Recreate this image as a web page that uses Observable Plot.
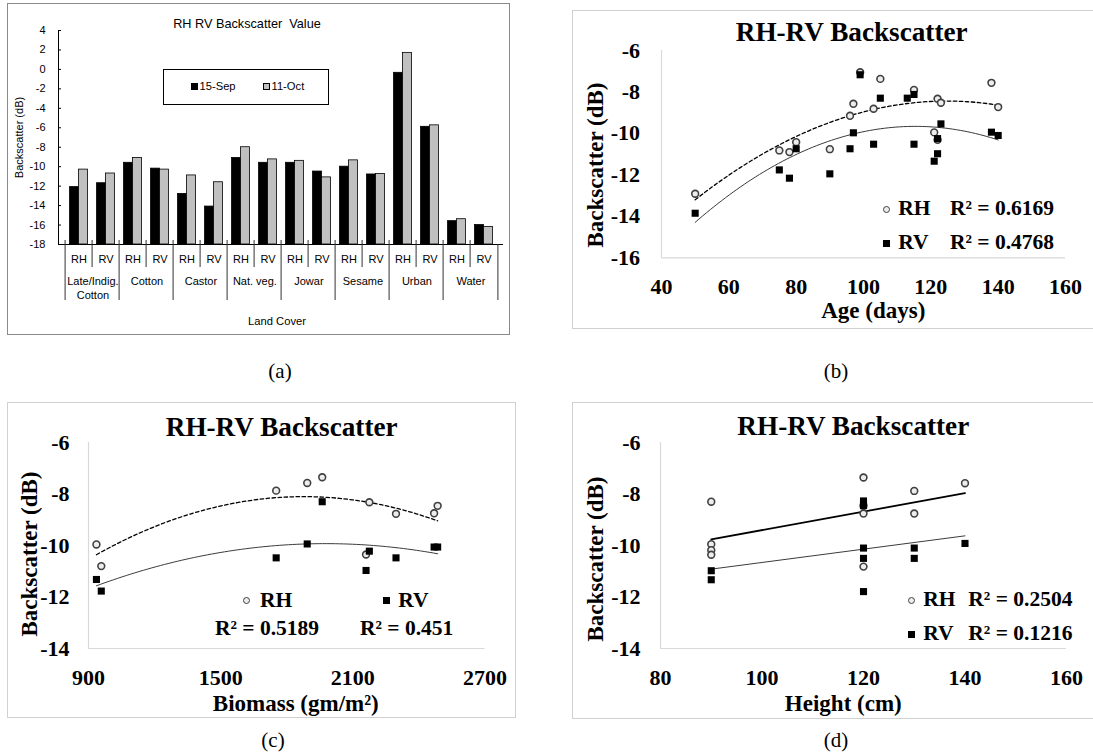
<!DOCTYPE html>
<html>
<head>
<meta charset="utf-8">
<script src="https://cdn.jsdelivr.net/npm/d3@7"></script>
<script src="https://cdn.jsdelivr.net/npm/@observablehq/plot@0.6"></script>
<style>
  html, body { margin: 0; padding: 0; background: #fff; }
  #page { position: relative; width: 1093px; height: 754px; overflow: hidden; background: #fff; }
  .box { position: absolute; box-sizing: border-box; }
  .svgwrap { position: absolute; }
  .t { position: absolute; white-space: pre; line-height: 1; color: #000; }
  .serif { font-family: "Liberation Serif", "Times New Roman", serif; }
  .sans { font-family: "Liberation Sans", Arial, sans-serif; }
  .mk { position: absolute; box-sizing: border-box; }
</style>
</head>
<body>
<div id="page"></div>
<script>
// ---------------- Panel (a) data ----------------
const landGroups = ["Late/Indig.\nCotton", "Cotton", "Castor", "Nat. veg.", "Jowar", "Sesame", "Urban", "Water"];
const polarisations = ["RH", "RV"];
const dateLabels = ["15-Sep", "11-Oct"];
const sep15 = [-12.1, -11.7, -9.6, -10.2, -12.8, -14.1, -9.1, -9.6, -9.6, -10.5, -10.0, -10.8, -0.35, -5.9, -15.6, -16.0];
const oct11 = [-10.3, -10.7, -9.1, -10.3, -10.9, -11.6, -8.0, -9.25, -9.4, -11.1, -9.35, -10.75, 1.7, -5.75, -15.4, -16.2];
const barYTicks = [4, 2, 0, -2, -4, -6, -8, -10, -12, -14, -16, -18];
const barYDomain = [-18, 4];

// ---------------- Panel (b) data: age ----------------
const ageRH = [50, 75, 78, 80, 90, 96, 97, 99, 103, 105, 115, 121, 122, 122, 123, 138, 140];
const ageRHdB = [-12.91, -10.82, -10.9, -10.42, -10.76, -9.15, -8.57, -7.05, -8.81, -7.37, -7.9, -9.95, -8.33, -10.31, -8.52, -7.56, -8.73];
const ageRV = [50, 75, 78, 80, 90, 96, 97, 99, 103, 105, 113, 115, 115, 121, 122, 122, 123, 138, 140];
const ageRVdB = [-13.85, -11.76, -12.16, -10.74, -11.95, -10.74, -9.97, -7.17, -10.52, -8.3, -8.3, -8.12, -10.52, -11.34, -10.98, -10.25, -9.54, -9.94, -10.1];
const ageXTicks = [40, 60, 80, 100, 120, 140, 160];
const ageYTicks = [-6, -8, -10, -12, -14, -16];
const ageR2 = ["R² = 0.6169", "R² = 0.4768"];

// ---------------- Panel (c) data: biomass ----------------
const bioX = [936, 958, 1752, 1893, 1961, 2160, 2175, 2296, 2469, 2485];
const bioRHdB = [-9.96, -10.8, -7.87, -7.57, -7.35, -10.35, -8.32, -8.77, -8.75, -8.46];
const bioRVdB = [-11.32, -11.77, -10.48, -9.94, -8.3, -10.97, -10.22, -10.48, -10.06, -10.06];
const bioXTicks = [900, 1500, 2100, 2700];
const bioYTicks = [-6, -8, -10, -12, -14];
const bioR2 = ["R² = 0.5189", "R² = 0.451"];

// ---------------- Panel (d) data: height ----------------
const htRH = [90, 90, 90, 90, 120, 120, 120, 120, 130, 130, 140];
const htRHdB = [-8.3, -9.95, -10.18, -10.36, -7.36, -8.46, -8.76, -10.82, -7.88, -8.76, -7.58];
const htRV = [90, 90, 120, 120, 120, 120, 120, 130, 130, 140];
const htRVdB = [-10.98, -11.33, -8.27, -8.45, -10.1, -10.5, -11.79, -10.1, -10.5, -9.92];
const htXTicks = [80, 100, 120, 140, 160];
const htYTicks = [-6, -8, -10, -12, -14];
const htR2 = ["R² = 0.2504", "R² = 0.1216"];

const page = document.getElementById("page");

function addBox(l, t, r, b, color) {
  const d = document.createElement("div");
  d.className = "box";
  Object.assign(d.style, {left: l + "px", top: t + "px", width: (r - l) + "px", height: (b - t) + "px", border: "1px solid " + color});
  page.appendChild(d);
  return d;
}
function addText(str, x, y, o = {}) {
  const d = document.createElement("div");
  d.className = "t " + (o.cls || "serif");
  d.textContent = str;
  const tx = (o.anchor || "middle") === "middle" ? "-50%" : "0";
  d.style.left = x + "px";
  d.style.top = y + "px";
  d.style.fontSize = (o.size || 22) + "px";
  d.style.fontWeight = o.weight || "normal";
  d.style.transform = o.rotate ? `translate(-50%,-50%) rotate(${o.rotate}deg)` : `translate(${tx},-50%)`;
  page.appendChild(d);
  return d;
}
function addMarker(kind, cx, cy, size) {
  const d = document.createElement("div");
  d.className = "mk";
  Object.assign(d.style, {left: (cx - size / 2) + "px", top: (cy - size / 2) + "px", width: size + "px", height: size + "px"});
  if (kind === "circle") { d.style.borderRadius = "50%"; d.style.border = "1.6px solid #404040"; d.style.background = "#ededed"; }
  else if (kind === "square") { d.style.background = "#000"; }
  else if (kind === "gray") { d.style.background = "#c0c0c0"; d.style.border = "1px solid #000"; }
  page.appendChild(d);
}
function placeSvg(svg, l, t) {
  const w = document.createElement("div");
  w.className = "svgwrap";
  w.style.left = l + "px"; w.style.top = t + "px";
  w.appendChild(svg);
  page.appendChild(w);
}

// ---------------- quadratic least squares for trend lines ----------------
function solve3(A, b) {
  const M = A.map((r, i) => [...r, b[i]]);
  for (let c = 0; c < 3; c++) {
    let p = c;
    for (let r = c + 1; r < 3; r++) if (Math.abs(M[r][c]) > Math.abs(M[p][c])) p = r;
    [M[c], M[p]] = [M[p], M[c]];
    for (let r = 0; r < 3; r++) {
      if (r === c) continue;
      const f = M[r][c] / M[c][c];
      for (let k = c; k < 4; k++) M[r][k] -= f * M[c][k];
    }
  }
  return [M[0][3] / M[0][0], M[1][3] / M[1][1], M[2][3] / M[2][2]];
}
function quadCurve(xs, ys, n = 80) {
  const mx = d3.mean(xs), sx = d3.deviation(xs) || 1;
  const S = [0, 0, 0, 0, 0], T = [0, 0, 0];
  xs.forEach((x, i) => {
    const v = (x - mx) / sx;
    let p = 1;
    for (let k = 0; k < 5; k++) { S[k] += p; p *= v; }
    T[0] += ys[i]; T[1] += ys[i] * v; T[2] += ys[i] * v * v;
  });
  const c = solve3([[S[0], S[1], S[2]], [S[1], S[2], S[3]], [S[2], S[3], S[4]]], T);
  const [x0, x1] = d3.extent(xs);
  return d3.range(n + 1).map(i => {
    const x = x0 + (x1 - x0) * i / n, v = (x - mx) / sx;
    return {x, y: c[0] + c[1] * v + c[2] * v * v};
  });
}

// ================= Panel (a): bar chart =================
{
  const keys = landGroups.flatMap(g => polarisations.map(p => g + "|" + p));
  const rows = keys.map((k, i) => ({key: k, sep: sep15[i], oct: oct11[i]}));
  const B = {svgL: 7, svgT: 3, svgR: 510, svgB: 335, pL: 58, pR: 503, pT: 30, pB: 244};
  const step = (B.pR - B.pL) / keys.length;
  const firstKeys = keys.filter((k, i) => i % 2 === 0);
  const secondKeys = keys.filter((k, i) => i % 2 === 1);
  addBox(7, 3, 510, 335, "#8a8a8a");
  const svg = Plot.plot({
    width: B.svgR - B.svgL, height: B.svgB - B.svgT,
    marginLeft: B.pL - B.svgL, marginRight: B.svgR - B.pR, marginTop: B.pT - B.svgT, marginBottom: B.svgB - B.pB,
    style: {fontFamily: "Liberation Sans, Arial, sans-serif", fontSize: "11px", color: "#000", background: "transparent", overflow: "visible"},
    x: {domain: keys, paddingInner: 0.68, paddingOuter: 0.34},
    y: {domain: barYDomain},
    marks: [
      Plot.barY(rows, {x: "key", y1: () => barYDomain[0], y2: "sep", fill: "#000", stroke: "#000", strokeWidth: 0.8, dx: -step * 0.16}),
      Plot.barY(rows, {x: "key", y1: () => barYDomain[0], y2: "oct", fill: "#c0c0c0", stroke: "#000", strokeWidth: 0.8, dx: step * 0.16}),
      Plot.ruleY([barYDomain[0]], {stroke: "#000"}),
      Plot.frame({anchor: "left", stroke: "#000"}),
      Plot.axisY({ticks: barYTicks, tickSize: -3, tickPadding: 16, tickFormat: d => String(d), label: "Backscatter (dB)", labelAnchor: "center", labelOffset: 43, labelArrow: "none"}),
      Plot.axisX({ticks: keys, tickSize: 0, tickPadding: 10.5, tickFormat: k => k.split("|")[1], label: null}),
      Plot.axisX({ticks: firstKeys, tickSize: 0, tickPadding: 31, dx: step / 2, tickFormat: k => k.split("|")[0], label: null, lineHeight: 1.27}),
      Plot.axisX({ticks: firstKeys, tickSize: 56, tickPadding: 0, dx: -step / 2, tickFormat: () => "", label: null, stroke: "#333"}),
      Plot.axisX({ticks: [keys[keys.length - 1]], tickSize: 56, tickPadding: 0, dx: step / 2, tickFormat: () => "", label: null, stroke: "#333"}),
      Plot.axisX({ticks: secondKeys, tickSize: 23, tickPadding: 0, dx: -step / 2, tickFormat: () => "", label: null, stroke: "#333"}),
      Plot.axisX({ticks: keys, tickSize: -4, tickPadding: 0, dx: -step / 2, tickFormat: () => "", label: null, stroke: "#333"})
    ]
  });
  placeSvg(svg, B.svgL, B.svgT);
  addText("RH RV Backscatter  Value", 247, 24, {cls: "sans", size: 12.7});
  addText("Land Cover", 277, 322, {cls: "sans", size: 11.2});
  // legend
  const lg = addBox(163.3, 69.3, 329.3, 105.3, "#000");
  lg.style.background = "#fff";
  addMarker("square", 194.5, 86.7, 7.5);
  addText(dateLabels[0], 199.5, 86.7, {cls: "sans", size: 11.2, anchor: "start"});
  addMarker("gray", 266.5, 86.7, 7.5);
  addText(dateLabels[1], 271.5, 86.7, {cls: "sans", size: 11.2, anchor: "start"});
  addText("(a)", 280, 371, {size: 21});
}

// ================= scatter panels =================
function scatterPanel(B, cfg) {
  const rh = cfg.rhX.map((x, i) => ({x, y: cfg.rhY[i]}));
  const rv = cfg.rvX.map((x, i) => ({x, y: cfg.rvY[i]}));
  const fits = cfg.fit === "quad" ? [
    Plot.line(quadCurve(cfg.rvX, cfg.rvY), {x: "x", y: "y", stroke: "#3a3a3a", strokeWidth: 1}),
    Plot.line(quadCurve(cfg.rhX, cfg.rhY), {x: "x", y: "y", stroke: "#000", strokeWidth: 1.3, strokeDasharray: "3.5,2.5"})
  ] : [
    Plot.linearRegressionY(rv, {x: "x", y: "y", stroke: "#3a3a3a", strokeWidth: 1, ci: 0}),
    Plot.linearRegressionY(rh, {x: "x", y: "y", stroke: "#000", strokeWidth: 1.8, ci: 0})
  ];
  const svg = Plot.plot({
    width: B.svgR - B.svgL, height: B.svgB - B.svgT,
    marginLeft: B.pL - B.svgL, marginRight: B.svgR - B.pR, marginTop: B.pT - B.svgT, marginBottom: B.svgB - B.pB,
    style: {fontFamily: "Liberation Serif, Times New Roman, serif", fontWeight: "bold", fontSize: "22px", color: "#000", background: "transparent", overflow: "visible"},
    x: {domain: cfg.xDomain},
    y: {domain: cfg.yDomain},
    marks: [
      Plot.ruleX([cfg.xDomain[0]], {stroke: "#d9d9d9", strokeWidth: 1.2}),
      Plot.ruleY([cfg.yDomain[0]], {stroke: "#d9d9d9", strokeWidth: 1.2}),
      ...fits,
      Plot.dot(rh, {x: "x", y: "y", r: 3.4, stroke: "#404040", strokeWidth: 1.6, fill: "#ededed"}),
      Plot.dot(rv, {x: "x", y: "y", symbol: "square", r: 4, fill: "#000", stroke: "none"}),
      Plot.axisY({ticks: cfg.yTicks, tickSize: 0, tickPadding: cfg.yPad, tickFormat: d => String(d), label: null}),
      Plot.axisX({ticks: cfg.xTicks, tickSize: 0, tickPadding: 21, tickFormat: d => String(d), label: null})
    ]
  });
  placeSvg(svg, B.svgL, B.svgT);
}

// ---- (b)
addBox(572, 10, 1100, 328.5, "#d0d0d0");
scatterPanel({svgL: 572, svgT: 10, svgR: 1093, svgB: 328.5, pL: 661, pR: 1065, pT: 50, pB: 257.3},
  {rhX: ageRH, rhY: ageRHdB, rvX: ageRV, rvY: ageRVdB, xDomain: [40, 160], yDomain: [-16, -6], xTicks: ageXTicks, yTicks: ageYTicks, fit: "quad", yPad: 21.5});
addText("RH-RV Backscatter", 851.7, 33.3, {size: 27.2, weight: "bold"});
addText("Backscatter (dB)", 594.7, 165, {size: 23, weight: "bold", rotate: -90});
addText("Age (days)", 873.3, 310, {size: 23, weight: "bold"});
addMarker("circle", 886.7, 209, 7);
addText("RH", 898.3, 209, {size: 21.5, weight: "bold", anchor: "start"});
addText(ageR2[0], 950, 209, {size: 21.5, weight: "bold", anchor: "start"});
addMarker("square", 886.7, 243, 7);
addText("RV", 898.3, 243, {size: 21.5, weight: "bold", anchor: "start"});
addText(ageR2[1], 950, 243, {size: 21.5, weight: "bold", anchor: "start"});
addText("(b)", 836, 371, {size: 21});

// ---- (c)
addBox(6.5, 401.7, 516, 718.3, "#d0d0d0");
scatterPanel({svgL: 6.5, svgT: 401.7, svgR: 516, svgB: 718.3, pL: 87.5, pR: 484, pT: 441.7, pB: 647.7},
  {rhX: bioX, rhY: bioRHdB, rvX: bioX, rvY: bioRVdB, xDomain: [900, 2700], yDomain: [-14, -6], xTicks: bioXTicks, yTicks: bioYTicks, fit: "quad", yPad: 19});
addText("RH-RV Backscatter", 281.7, 428, {size: 27.2, weight: "bold"});
addText("Backscatter (dB)", 29.2, 554, {size: 23, weight: "bold", rotate: -90});
addText("Biomass (gm/m²)", 295.8, 703, {size: 23, weight: "bold"});
addMarker("circle", 246.7, 600.5, 7);
addText("RH", 260, 600.5, {size: 21.5, weight: "bold", anchor: "start"});
addMarker("square", 386, 600.5, 7);
addText("RV", 398.3, 600.5, {size: 21.5, weight: "bold", anchor: "start"});
addText(bioR2[0], 215, 629, {size: 21.5, weight: "bold", anchor: "start"});
addText(bioR2[1], 360, 629, {size: 21.5, weight: "bold", anchor: "start"});
addText("(c)", 273, 740, {size: 21});

// ---- (d)
addBox(572, 401.7, 1100, 719.3, "#d0d0d0");
scatterPanel({svgL: 572, svgT: 401.7, svgR: 1093, svgB: 719.3, pL: 660, pR: 1066, pT: 441.7, pB: 647.7},
  {rhX: htRH, rhY: htRHdB, rvX: htRV, rvY: htRVdB, xDomain: [80, 160], yDomain: [-14, -6], xTicks: htXTicks, yTicks: htYTicks, fit: "linear", yPad: 20});
addText("RH-RV Backscatter", 853.3, 426.7, {size: 27.2, weight: "bold"});
addText("Backscatter (dB)", 594.7, 559, {size: 23, weight: "bold", rotate: -90});
addText("Height (cm)", 843.3, 703, {size: 23, weight: "bold"});
addMarker("circle", 911.7, 600, 7);
addText("RH", 923.3, 600, {size: 21.5, weight: "bold", anchor: "start"});
addText(htR2[0], 968.3, 600, {size: 21.5, weight: "bold", anchor: "start"});
addMarker("square", 911.7, 634, 7);
addText("RV", 923.3, 634, {size: 21.5, weight: "bold", anchor: "start"});
addText(htR2[1], 968.3, 634, {size: 21.5, weight: "bold", anchor: "start"});
addText("(d)", 836, 740, {size: 21});
</script>
</body>
</html>
